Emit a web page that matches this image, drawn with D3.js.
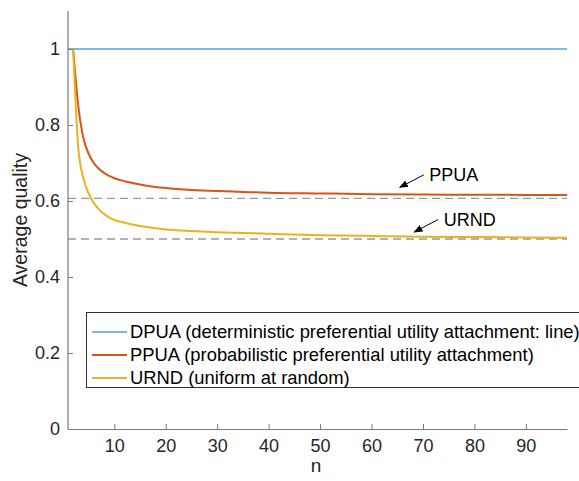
<!DOCTYPE html>
<html><head><meta charset="utf-8">
<script src="https://cdn.jsdelivr.net/npm/d3@7"></script>
<style>body{margin:0;background:#fff;}svg{display:block;font-family:"Liberation Sans",Arial,Helvetica,sans-serif;}</style>
</head><body><svg id="c" width="579" height="481"></svg>
<script>
// Data
const nDPUA = [1, 98];
const vDPUA = [1, 1];
const nCurve = [2, 3, 4, 5, 6, 7, 8, 9, 10, 12, 14, 16, 18, 20, 25, 30, 35, 40, 50, 60, 70, 80, 90, 98];
const vPPUA = [1.0, 0.85, 0.765, 0.725, 0.70, 0.685, 0.674, 0.666, 0.660, 0.652, 0.646, 0.641, 0.637, 0.634, 0.629, 0.626, 0.624, 0.622, 0.620, 0.618, 0.617, 0.6165, 0.616, 0.6155];
const vURND = [1.0, 0.74, 0.66, 0.62, 0.595, 0.578, 0.566, 0.557, 0.550, 0.543, 0.537, 0.532, 0.528, 0.525, 0.521, 0.518, 0.516, 0.514, 0.510, 0.508, 0.506, 0.505, 0.504, 0.503];
const refLines = [0.607, 0.5];
const xTicks = [10, 20, 30, 40, 50, 60, 70, 80, 90];
const yTicks = [0, 0.2, 0.4, 0.6, 0.8, 1];
const yTickLabels = ["0", "0.2", "0.4", "0.6", "0.8", "1"];
const legendLabels = [
  "DPUA (deterministic preferential utility attachment: line)",
  "PPUA (probabilistic preferential utility attachment)",
  "URND (uniform at random)"
];
const annotations = [
  {text: "PPUA", n: 65.5, v: 0.6175},
  {text: "URND", n: 68.3, v: 0.5}
];

const colors = ["#0072BD", "#D95319", "#EDB120"];
const widths = [1, 2, 2];

const svg = d3.select("#c");
const x = d3.scaleLinear().domain([1, 98]).range([68, 567]);
const y = d3.scaleLinear().domain([0, 1.1]).range([429, 11]);
const axisColor = "#7a7a7a";
const textColor = "#262626";

// reference dashed lines
svg.selectAll("line.ref").data(refLines).enter().append("line")
  .attr("x1", x(1)).attr("x2", x(98))
  .attr("y1", d => y(d)).attr("y2", d => y(d))
  .attr("stroke", "#999").attr("stroke-width", 1.3).attr("stroke-dasharray", "8,5");

const line = d3.line().x(d => x(d[0])).y(d => y(d[1]));
const lineM = d3.line().x(d => x(d[0])).y(d => y(d[1])).curve(d3.curveMonotoneX);
svg.append("path").attr("d", line(nDPUA.map((n, i) => [n, vDPUA[i]])))
  .attr("fill", "none").attr("stroke", colors[0]).attr("stroke-width", widths[0]);
svg.append("path").attr("d", lineM(nCurve.map((n, i) => [n, vPPUA[i]])))
  .attr("fill", "none").attr("stroke", colors[1]).attr("stroke-width", widths[1]);
svg.append("path").attr("d", lineM(nCurve.map((n, i) => [n, vURND[i]])))
  .attr("fill", "none").attr("stroke", colors[2]).attr("stroke-width", widths[2]);

// axes
const xAxis = d3.axisBottom(x).tickValues(xTicks).tickSizeInner(-5).tickSizeOuter(0).tickPadding(10);
const gx = svg.append("g").attr("transform", `translate(0,${y(0)})`).call(xAxis);
const yAxis = d3.axisLeft(y).tickValues(yTicks).tickFormat((d, i) => yTickLabels[i]).tickSizeInner(-5).tickSizeOuter(0).tickPadding(8);
const gy = svg.append("g").attr("transform", `translate(${x(1)},0)`).call(yAxis);
[gx, gy].forEach(g => {
  g.select(".domain").attr("stroke", axisColor).attr("stroke-width", 1.2);
  g.selectAll(".tick line").attr("stroke", axisColor);
  g.selectAll(".tick text").attr("fill", textColor).attr("font-size", 18).attr("font-family", null);
});
gx.selectAll(".tick text").attr("dy", "0.71em");
gy.select(".domain").attr("d", `M0,${y(0)}V${y(1.1)}`);

// labels
svg.append("text").attr("x", 316).attr("y", 472).attr("text-anchor", "middle")
  .attr("font-size", 19).attr("fill", textColor).text("n");
svg.append("text").attr("transform", "translate(27,220) rotate(-90)").attr("text-anchor", "middle")
  .attr("font-size", 19.5).attr("fill", textColor).text("Average quality");

// annotations with arrows
const defs = svg.append("defs");
defs.append("marker").attr("id", "ah").attr("viewBox", "0 0 10 10").attr("refX", 9).attr("refY", 5)
  .attr("markerWidth", 9).attr("markerHeight", 9).attr("markerUnits", "userSpaceOnUse").attr("orient", "auto")
  .append("path").attr("d", "M0,1 L10,5 L0,9 Z").attr("fill", "#000");
annotations.forEach(a => {
  const px = x(a.n), py = y(a.v) - 7;
  svg.append("line").attr("x1", px + 24).attr("y1", py - 12.5).attr("x2", px).attr("y2", py)
    .attr("stroke", "#000").attr("stroke-width", 1).attr("marker-end", "url(#ah)");
  svg.append("text").attr("x", px + 29.5).attr("y", py - 12.5).attr("dy", "0.35em")
    .attr("font-size", 18).attr("fill", "#000").text(a.text);
});

// legend
const lg = svg.append("g");
lg.append("rect").attr("x", 86.5).attr("y", 312.5).attr("width", 520).attr("height", 75)
  .attr("fill", "#fff").attr("stroke", "#333").attr("stroke-width", 1);
legendLabels.forEach((t, i) => {
  const yy = 332 + i * 23;
  lg.append("line").attr("x1", 92).attr("x2", 127).attr("y1", yy).attr("y2", yy)
    .attr("stroke", colors[i]).attr("stroke-width", widths[i]);
  lg.append("text").attr("x", 130).attr("y", yy).attr("dy", "0.35em").attr("font-size", 18.4)
    .attr("fill", "#000").text(t);
});
</script></body></html>
